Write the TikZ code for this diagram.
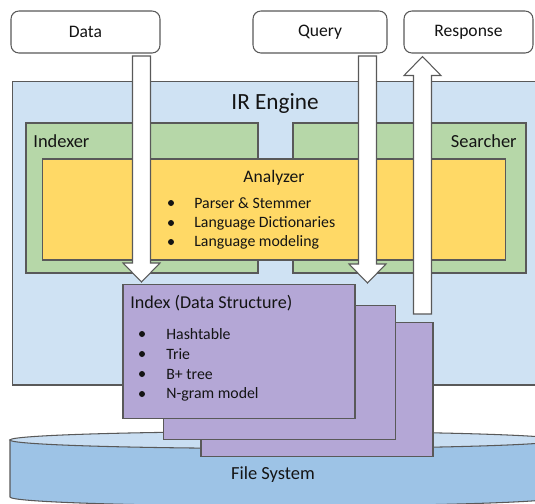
\documentclass[tikz,border=0pt]{standalone}
\usepackage{fontspec}
\setmainfont{Carlito}
\usetikzlibrary{calc}
\definecolor{irBlue}{HTML}{CFE2F3}
\definecolor{idxGreen}{HTML}{B6D7A8}
\definecolor{anYellow}{HTML}{FFD966}
\definecolor{dsPurple}{HTML}{B4A7D6}
\definecolor{fsBlue}{HTML}{9DC3E6}
\definecolor{fsTop}{HTML}{C9DEF2}
\definecolor{edgeGray}{HTML}{595959}
\definecolor{txtGray}{HTML}{141414}

\tikzset{
  iobox/.style={draw=edgeGray,fill=white,line width=0.6pt,rounded corners=4.5pt,
    minimum height=0.84cm,inner sep=0pt,text=txtGray,font=\fontsize{10}{12}\selectfont},
  panel/.style={draw=edgeGray,line width=0.6pt,inner sep=0pt},
  card/.style={panel,fill=dsPurple,minimum width=4.64cm,minimum height=2.68cm},
  arrowbody/.style={draw=edgeGray,fill=white,line width=0.6pt},
  lbl/.style={inner sep=0pt,text=txtGray,font=\fontsize{10.5}{12}\selectfont},
  itm/.style={inner sep=0pt,anchor=west,text=txtGray,font=\fontsize{9}{11}\selectfont},
  bul/.style={circle,fill=txtGray,inner sep=0pt,minimum size=0.12cm}
}

% block arrow from #1 (tail) to #2 (tip), #3 = 1 down, -1 up
\newcommand{\blockarrow}[3]{%
  \filldraw[arrowbody] ($(#1)+(-9,0)$) -- ($(#2)+(-9,{-19*(#3)})$) -- ($(#2)+(-18.5,{-19*(#3)})$)
    -- (#2) -- ($(#2)+(18.5,{-19*(#3)})$) -- ($(#2)+(9,{-19*(#3)})$) -- ($(#1)+(9,0)$) -- cycle;}

\begin{document}
\begin{tikzpicture}[x=0.02cm,y=-0.02cm]
  \clip (0,0) rectangle (535,504);

  % file system
  \filldraw[fill=fsBlue,draw=edgeGray,line width=0.6pt] (10,440) -- (10,497)
    arc[start angle=180,end angle=0,x radius=275,y radius=9] -- (560,440) -- cycle;
  \filldraw[fill=fsTop,draw=edgeGray,line width=0.6pt] (285,440) ellipse[x radius=275,y radius=8.5];
  \node[lbl] (fs) at (273,475) {File System};

  % inputs and output
  \node[iobox,minimum width=2.98cm] (data) at (85.5,32) {Data};
  \node[iobox,minimum width=2.68cm] (query) at (320,32) {Query};
  \node[iobox,minimum width=2.58cm] (response) at (468.5,32) {Response};

  % engine
  \node[panel,fill=irBlue,minimum width=10.56cm,minimum height=6.08cm] (ir) at (276,233) {};
  \node[lbl,font=\fontsize{13.2}{15}\selectfont] (irtitle) at (275,104) {IR Engine};

  \node[panel,fill=idxGreen,minimum width=4.64cm,minimum height=3.0cm] (indexer) at (142,198) {};
  \node[panel,fill=idxGreen,minimum width=4.66cm,minimum height=3.0cm] (searcher) at (409.5,198) {};
  \node[lbl,anchor=west] (indexerlbl) at (33,141) {Indexer};
  \node[lbl,anchor=east] (searcherlbl) at (517,141) {Searcher};

  \node[panel,fill=anYellow,minimum width=9.28cm,minimum height=2.02cm] (analyzer) at (274,209.5) {};
  \node[lbl,font=\fontsize{10}{12}\selectfont] (anlbl) at (274,178) {Analyzer};
  \node[bul] (ab1) at (171,203) {};
  \node[itm] (ai1) at (194,203) {Parser \& Stemmer};
  \node[bul] (ab2) at (171,223) {};
  \node[itm] (ai2) at (194,223) {Language Dictionaries};
  \node[bul] (ab3) at (171,242) {};
  \node[itm] (ai3) at (194,242) {Language modeling};

  % data flow
  \coordinate (dataTail) at (141.5,56);
  \coordinate (queryTail) at (367.5,56);
  \coordinate (respTail) at (422.5,314);
  \coordinate (dataTip) at (141.5,282);
  \coordinate (queryTip) at (367.5,283);
  \coordinate (respTip) at ($(response.south -| respTail)+(0,3)$);
  \blockarrow{dataTail}{dataTip}{1}
  \blockarrow{queryTail}{queryTip}{1}
  \blockarrow{respTail}{respTip}{-1}

  % index
  \node[card] (idxC) at (317,389.5) {};
  \node[card] (idxB) at (279.5,372.5) {};
  \node[card] (idxA) at (239,351.5) {};
  \node[lbl,anchor=west,font=\fontsize{10.3}{12}\selectfont] (idxlbl) at (130,303) {Index (Data Structure)};
  \node[bul] (ib1) at (142,334) {};
  \node[itm] (ii1) at (166,334) {Hashtable};
  \node[bul] (ib2) at (142,354) {};
  \node[itm] (ii2) at (166,354) {Trie};
  \node[bul] (ib3) at (142,374) {};
  \node[itm] (ii3) at (166,374) {B+ tree};
  \node[bul] (ib4) at (142,394) {};
  \node[itm] (ii4) at (166,394) {N-gram model};
\end{tikzpicture}
\end{document}
